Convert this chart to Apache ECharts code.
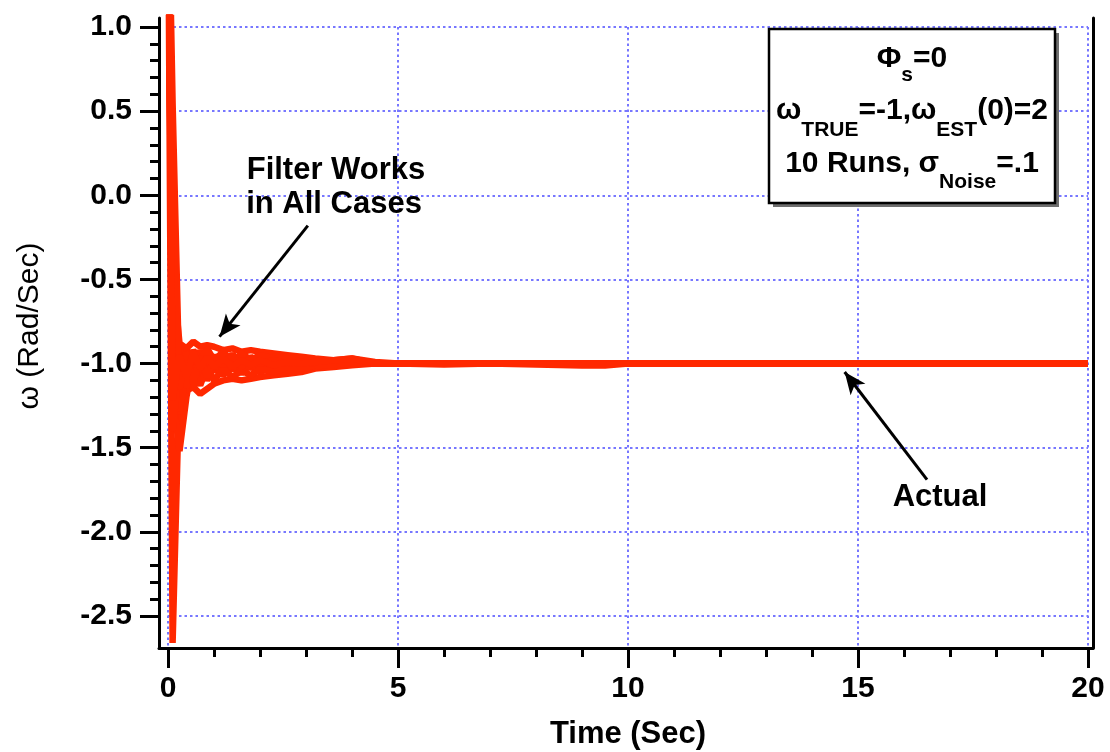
<!DOCTYPE html>
<html>
<head>
<meta charset="utf-8">
<script src="https://cdn.jsdelivr.net/npm/echarts@6/dist/echarts.min.js"></script>
<style>
  html, body { margin: 0; padding: 0; background: #fff; }
  #chart { width: 1110px; height: 752px; }
</style>
</head>
<body>
<div id="chart"></div>
<script>
// Sample times (s) shared by every run
const times = [0, 0.1, 0.25, 0.4, 0.55, 0.7, 0.85, 1.0, 1.2, 1.4, 1.6, 1.8, 2.0, 2.3, 2.6, 2.9, 3.2, 3.6, 4.0, 4.5, 5, 6, 7, 8, 9, 9.5, 10, 20];

// Estimated angular rate (rad/s) for each of the 10 Monte Carlo runs
const run1  = [2, -2.66, -1.08, -0.90, -1.12, -0.94, -1.06, -0.97, -1.04, -0.98, -1.02, -0.99, -1.01, -1.00, -1.00, -1.00, -1.00, -1.00, -1.00, -1.00, -1.00, -1.00, -1.00, -1.00, -1.00, -1.00, -1.00, -1.00];
const run2  = [2, -1.18, -1.52, -1.20, -0.96, -1.08, -0.93, -1.05, -0.96, -1.04, -0.97, -1.03, -0.98, -1.02, -0.99, -1.01, -1.00, -1.00, -1.00, -1.00, -1.00, -1.00, -1.00, -1.00, -1.00, -1.00, -1.00, -1.00];
const run3  = [2, -0.45, -0.88, -0.91, -0.87, -0.90, -0.89, -0.90, -0.92, -0.91, -0.93, -0.92, -0.93, -0.94, -0.95, -0.96, -0.97, -0.98, -0.97, -0.99, -1.00, -1.00, -1.00, -1.00, -1.00, -1.00, -1.00, -1.00];
const run4  = [2, -1.30, -1.05, -1.16, -1.14, -1.18, -1.15, -1.12, -1.10, -1.09, -1.10, -1.09, -1.08, -1.07, -1.06, -1.05, -1.03, -1.02, -1.01, -1.00, -1.00, -1.00, -1.00, -1.00, -1.00, -1.00, -1.00, -1.00];
const run5  = [2, -0.20, -1.30, -1.00, -1.10, -0.92, -1.04, -0.95, -1.06, -0.94, -1.04, -0.96, -1.03, -0.97, -1.02, -0.98, -1.01, -0.99, -1.00, -1.00, -1.00, -1.00, -1.00, -1.00, -1.00, -1.00, -1.00, -1.00];
const run6  = [2, -0.90, -1.28, -1.06, -1.15, -0.98, -1.10, -1.00, -1.07, -0.99, -1.06, -1.00, -1.05, -1.02, -1.04, -1.01, -1.02, -1.00, -1.00, -1.00, -1.00, -1.00, -1.00, -1.00, -1.00, -1.00, -1.00, -1.00];
const run7  = [2, -1.05, -0.90, -1.05, -0.92, -0.99, -0.91, -0.98, -0.93, -0.99, -0.94, -0.98, -0.95, -0.97, -0.97, -0.99, -0.98, -0.99, -1.00, -1.00, -1.00, -1.00, -1.00, -1.00, -1.00, -1.00, -1.00, -1.00];
const run8  = [2, -1.40, -0.98, -1.14, -1.03, -1.13, -1.02, -1.10, -1.03, -1.08, -1.04, -1.07, -1.03, -1.05, -1.02, -1.03, -1.01, -1.01, -1.00, -1.00, -1.00, -1.00, -1.00, -1.00, -1.00, -1.00, -1.00, -1.00];
const run9  = [2, 0.55, -1.15, -0.93, -1.12, -0.96, -1.08, -0.97, -1.01, -0.95, -1.02, -0.96, -1.00, -0.98, -1.00, -0.99, -1.00, -1.00, -1.00, -1.00, -1.00, -1.00, -1.00, -1.00, -1.00, -1.00, -1.00, -1.00];
const run10 = [2, -1.22, -0.95, -1.08, -0.93, -1.03, -0.96, -1.02, -0.97, -1.02, -0.98, -1.01, -0.98, -1.01, -0.99, -1.00, -0.99, -0.98, -0.97, -1.00, -1.00, -1.005, -1.00, -1.005, -1.012, -1.012, -1.00, -1.00];
const runs = [run1, run2, run3, run4, run5, run6, run7, run8, run9, run10];

// Annotation text and arrows ([tail], [head]) in time / rate units
const filterNote = ['Filter Works', 'in All Cases'];
const actualNote = 'Actual';
const filterArrow = [[3.04, -0.18], [1.12, -0.84]];
const actualArrow = [[16.5, -1.69], [14.71, -1.05]];

// Info box lines: [text, isSubscript]
const boxLines = [
  [['Φ', 0], ['s', 1], ['=0', 0]],
  [['ω', 0], ['TRUE', 1], ['=-1,ω', 0], ['EST', 1], ['(0)=2', 0]],
  [['10 Runs, σ', 0], ['Noise', 1], ['=.1', 0]]
];

const xTitle = 'Time (Sec)';
const yTitle = 'ω (Rad/Sec)';

// ---- layout ----
const FONT = '"Liberation Sans", Arial, Helvetica, sans-serif';
const RED = '#ff2800';
const GRIDC = '#7777ff';
const FRAME = { left: 159, right: 1093, top: 18, bottom: 648 };
const X0 = 168, X20 = 1088, Y1 = 27, YM25 = 616;
const pxX = (X20 - X0) / 20;
const pxY = (YM25 - Y1) / 3.5;
const xMinA = -(X0 - FRAME.left) / pxX;
const xMaxA = 20 + (FRAME.right - X20) / pxX;
const yMaxA = 1 + (Y1 - FRAME.top) / pxY;
const yMinA = -2.5 - (FRAME.bottom - YM25) / pxY;

const tickStyle = { color: '#000', width: 3 };
const splitStyle = { color: GRIDC, width: 2, type: [2.5, 3] };
const labelStyle = { color: '#000', fontSize: 30, fontWeight: 'bold', fontFamily: FONT };

const series = runs.map((r, k) => ({
  type: 'line',
  name: 'run' + (k + 1),
  xAxisIndex: 0, yAxisIndex: 0,
  data: times.map((t, i) => [t, r[i]]),
  showSymbol: false,
  clip: true,
  lineStyle: { color: RED, width: 6.5 },
  itemStyle: { color: RED },
  z: 3
}));
series.push({
  type: 'line', xAxisIndex: 0, yAxisIndex: 0, data: [], z: 5,
  markLine: {
    silent: true,
    symbol: ['none', 'arrow'],
    symbolSize: [14, 22],
    label: { show: false },
    lineStyle: { color: '#000', width: 3, type: 'solid' },
    data: [
      [{ coord: filterArrow[0] }, { coord: filterArrow[1] }],
      [{ coord: actualArrow[0] }, { coord: actualArrow[1] }]
    ]
  }
});

// Info box text with subscripts, laid out fragment by fragment
const measureCtx = document.createElement('canvas').getContext('2d');
function fragFont(sub) { return 'bold ' + (sub ? 21 : 30) + 'px ' + FONT; }
const boxGraphics = [];
const boxCx = 912;
const baselines = [70, 122, 175];
const subDrops = [13, 16, 15];
boxLines.forEach((frags, li) => {
  const widths = frags.map(([t, s]) => { measureCtx.font = fragFont(s); return measureCtx.measureText(t).width; });
  const total = widths.reduce((a, b) => a + b, 0);
  let x = boxCx - total / 2;
  frags.forEach(([t, s], fi) => {
    const size = s ? 21 : 30;
    const base = baselines[li] + (s ? subDrops[li] : 0);
    boxGraphics.push({
      type: 'text', x: x, y: base - 0.36 * size, z: 102,
      style: { text: t, font: fragFont(s), fill: '#000', align: 'left', verticalAlign: 'middle' }
    });
    x += widths[fi];
  });
});

const chart = echarts.init(document.getElementById('chart'), null, { renderer: 'canvas' });
chart.setOption({
  animation: false,
  backgroundColor: '#fff',
  grid: [
    { left: FRAME.left, top: FRAME.top, width: FRAME.right - FRAME.left, height: FRAME.bottom - FRAME.top },
    { left: X0, top: Y1, width: X20 - X0, height: YM25 - Y1 },
    { left: X0, top: Y1, width: X20 - X0, height: FRAME.bottom - Y1 }
  ],
  xAxis: [
    { gridIndex: 0, type: 'value', min: xMinA, max: xMaxA,
      axisLine: { show: true, onZero: false, lineStyle: tickStyle },
      axisTick: { show: false }, axisLabel: { show: false }, splitLine: { show: false } },
    { gridIndex: 1, type: 'value', min: 0, max: 20, show: false },
    { gridIndex: 2, type: 'value', min: 0, max: 20, interval: 5,
      axisLine: { show: false, onZero: false },
      axisTick: { show: true, length: 20, lineStyle: tickStyle },
      minorTick: { show: true, splitNumber: 5, length: 9, lineStyle: tickStyle },
      axisLabel: Object.assign({ margin: 26 }, labelStyle),
      splitLine: { show: true, lineStyle: splitStyle } }
  ],
  yAxis: [
    { gridIndex: 0, type: 'value', min: yMinA, max: yMaxA,
      axisLine: { show: true, onZero: false, lineStyle: tickStyle },
      axisTick: { show: false }, axisLabel: { show: false }, splitLine: { show: false } },
    { gridIndex: 0, type: 'value', position: 'right', min: yMinA, max: yMaxA,
      axisLine: { show: true, onZero: false, lineStyle: tickStyle },
      axisTick: { show: false }, axisLabel: { show: false }, splitLine: { show: false } },
    { gridIndex: 1, type: 'value', min: -2.5, max: 1.0, interval: 0.5, offset: X0 - FRAME.left,
      axisLine: { show: false, onZero: false },
      axisTick: { show: true, length: 19, lineStyle: tickStyle },
      minorTick: { show: true, splitNumber: 5, length: 9, lineStyle: tickStyle },
      axisLabel: Object.assign({ margin: 27, formatter: v => v.toFixed(1) }, labelStyle),
      splitLine: { show: true, lineStyle: splitStyle } },
    { gridIndex: 2, type: 'value', min: 0, max: 1, show: false }
  ],
  series: series,
  graphic: [
    { type: 'text', x: 628, y: 734, z: 100,
      style: { text: xTitle, font: 'bold 31px ' + FONT, fill: '#000', align: 'center', verticalAlign: 'middle' } },
    { type: 'text', x: 30, y: 326, rotation: Math.PI / 2, z: 100,
      style: { text: yTitle, font: '30px ' + FONT, fill: '#000', align: 'center', verticalAlign: 'middle' } },
    { type: 'text', x: 336, y: 170, z: 100,
      style: { text: filterNote[0], font: 'bold 31px ' + FONT, fill: '#000', align: 'center', verticalAlign: 'middle' } },
    { type: 'text', x: 334, y: 204, z: 100,
      style: { text: filterNote[1], font: 'bold 31px ' + FONT, fill: '#000', align: 'center', verticalAlign: 'middle' } },
    { type: 'text', x: 940, y: 497, z: 100,
      style: { text: actualNote, font: 'bold 31px ' + FONT, fill: '#000', align: 'center', verticalAlign: 'middle' } },
    { type: 'rect', z: 100, shape: { x: 773, y: 33, width: 286, height: 174 }, style: { fill: '#6e6e6e' } },
    { type: 'rect', z: 101, shape: { x: 769, y: 29, width: 286, height: 174 }, style: { fill: '#fff', stroke: '#000', lineWidth: 2.5 } }
  ].concat(boxGraphics)
});
</script>
</body>
</html>
